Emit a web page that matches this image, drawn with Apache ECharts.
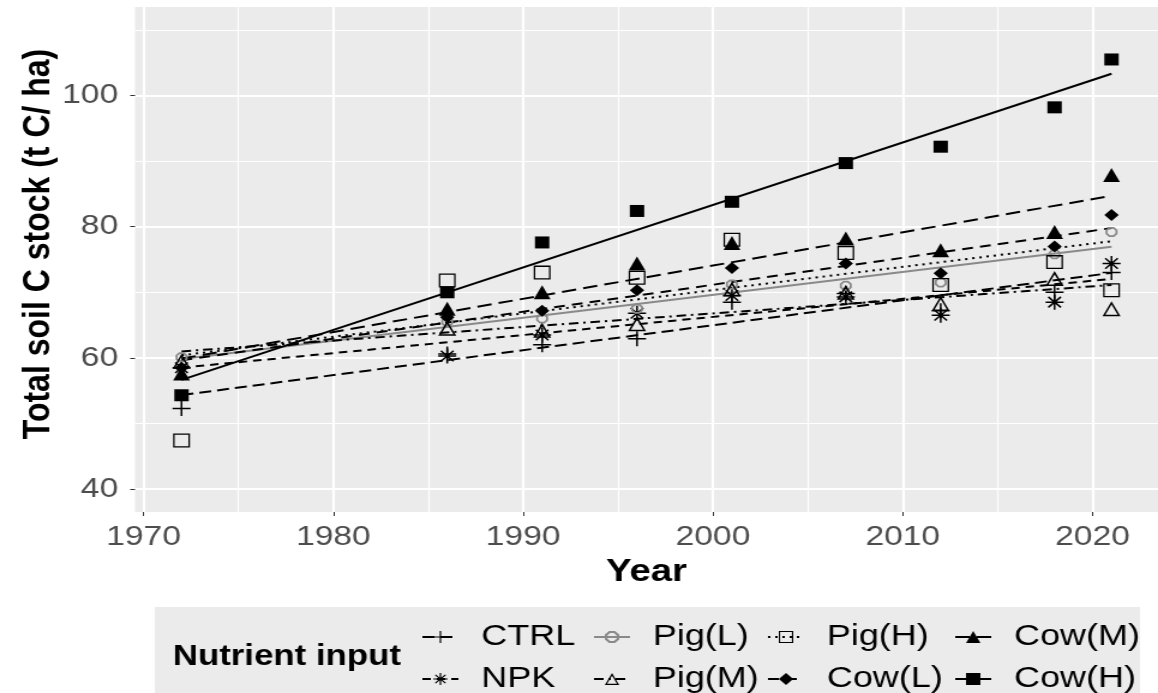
<!DOCTYPE html>
<html>
<head>
<meta charset="utf-8">
<script src="https://cdn.jsdelivr.net/npm/echarts@6/dist/echarts.min.js"></script>
<style>
html,body{margin:0;padding:0;background:#fff;overflow:hidden;}
#main{width:965px;height:693px;transform:scaleX(1.2);transform-origin:0 0;}
</style>
</head>
<body>
<div id="main"></div>
<script>
// ---- data ----
const years = [1972, 1986, 1991, 1996, 2001, 2007, 2012, 2018, 2021];
const treatments = ['CTRL', 'NPK', 'Pig(L)', 'Pig(M)', 'Pig(H)', 'Cow(L)', 'Cow(M)', 'Cow(H)'];
const ctrl = [52.3, 60.6, 62.0, 62.9, 68.5, 69.8, 67.2, 70.0, 73.0];
const npk  = [58.5, 60.3, 63.5, 66.8, 69.5, 69.3, 66.5, 68.5, 74.4];
const pigL = [60.1, 65.5, 66.0, 67.5, 71.2, 71.0, 71.5, 75.8, 79.2];
const pigM = [59.5, 64.5, 64.2, 65.2, 70.5, 70.0, 68.3, 72.1, 67.5];
const pigH = [47.4, 71.8, 73.0, 72.2, 78.0, 76.0, 71.1, 74.6, 70.3];
const cowL = [58.5, 66.2, 67.2, 70.3, 73.7, 74.4, 72.9, 77.0, 81.8];
const cowM = [57.6, 67.5, 70.0, 74.4, 77.5, 78.2, 76.4, 79.2, 87.9];
const cowH = [54.3, 70.0, 77.6, 82.4, 83.8, 89.7, 92.2, 98.2, 105.5];
const xTickLabels = [1970, 1980, 1990, 2000, 2010, 2020];
const yTickLabels = [40, 60, 80, 100];
const xMinorBreaks = [1975, 1985, 1995, 2005, 2015];
const yMinorBreaks = [50, 70, 90, 110];
const yTitle = 'Total soil C stock (t C/ ha)';
const legendTitle = 'Nutrient input';

const values = [ctrl, npk, pigL, pigM, pigH, cowL, cowM, cowH];

// ---- styles ----
const SYM_PLUS = 'path://M-1,-10L1,-10L1,-1L10,-1L10,1L1,1L1,10L-1,10L-1,1L-10,1L-10,-1L-1,-1Z';
const SYM_AST = 'path://M-1,-10L1,-10L1,-1L10,-1L10,1L1,1L1,10L-1,10L-1,1L-10,1L-10,-1L-1,-1Z' +
  'M-7.7,-6.3L-6.3,-7.7L7.7,6.3L6.3,7.7Z M6.3,-7.7L7.7,-6.3L-6.3,7.7L-7.7,6.3Z';
const SYM_OSQ = 'path://M-10,-10L10,-10L10,10L-10,10Z M-8.2,-8.2L-8.2,8.2L8.2,8.2L8.2,-8.2Z';
const SYM_OTRI = 'path://M0,-10L10,10L-10,10Z M0,-5.5L-6.8,8L6.8,8Z';
const SYM_OCT = 'path://M9.24,3.83L3.83,9.24L-3.83,9.24L-9.24,3.83L-9.24,-3.83L-3.83,-9.24L3.83,-9.24L9.24,-3.83Z' +
  'M6.0,-2.5L2.5,-6.0L-2.5,-6.0L-6.0,-2.5L-6.0,2.5L-2.5,6.0L2.5,6.0L6.0,2.5Z';
const styles = [
  {sym: SYM_PLUS, size: 15, color: '#000', dash: [10, 5]},
  {sym: SYM_AST,  size: 15, color: '#000', dash: [7, 5]},
  {sym: SYM_OCT,  size: 10, color: '#8a8a8a', dash: 'solid'},
  {sym: SYM_OTRI, size: 15, color: '#000', dash: [8, 4, 2, 4]},
  {sym: SYM_OSQ,  size: 14, color: '#000', dash: [2, 4]},
  {sym: 'diamond', size: 12, color: '#000', dash: [9, 6]},
  {sym: 'triangle', size: 14, color: '#000', dash: [12, 6]},
  {sym: 'rect', size: 12, color: '#000', dash: 'solid'}
];

// ordinary least squares fit, like geom_smooth(method = "lm")
function fitLine(ys) {
  const n = years.length;
  const mx = years.reduce((a, b) => a + b, 0) / n;
  const my = ys.reduce((a, b) => a + b, 0) / n;
  let sxy = 0, sxx = 0;
  for (let i = 0; i < n; i++) { sxy += (years[i] - mx) * (ys[i] - my); sxx += (years[i] - mx) ** 2; }
  const b = sxy / sxx, a = my - b * mx;
  return [[years[0], a + b * years[0]], [years[n - 1], a + b * years[n - 1]]];
}

const FONT = '"Liberation Sans", Arial, sans-serif';
const series = [];
// minor grid lines (ggplot minor breaks), drawn below everything else
series.push({
  name: 'minor-grid', type: 'line', data: [], silent: true, z: 0, zlevel: 0,
  markLine: {
    silent: true, symbol: 'none', animation: false, z: 0,
    label: {show: false},
    lineStyle: {color: '#fff', width: 1.2, type: 'solid'},
    emphasis: {disabled: true},
    data: xMinorBreaks.map(v => ({xAxis: v})).concat(yMinorBreaks.map(v => ({yAxis: v})))
  }
});
treatments.forEach((name, i) => {
  const st = styles[i];
  series.push({
    name: name, type: 'line', data: fitLine(values[i]),
    symbol: st.sym, symbolSize: st.size, showSymbol: false,
    lineStyle: {color: st.color, width: 2, type: st.dash},
    itemStyle: {color: st.color},
    z: 3, silent: true
  });
});
treatments.forEach((name, i) => {
  const st = styles[i];
  series.push({
    name: name, type: 'scatter', data: years.map((y, k) => [y, values[i][k]]),
    symbol: st.sym, symbolSize: st.size,
    itemStyle: {color: st.color, opacity: 1},
    z: 4, silent: true
  });
});

const legendCols = [[0, 1, 351], [2, 3, 494], [4, 5, 639], [6, 7, 795]];
const legends = legendCols.map(c => ({
  data: [treatments[c[0]], treatments[c[1]]],
  orient: 'vertical', left: c[2], top: 619, height: 90, width: 200, padding: 0,
  itemGap: 6, itemWidth: 30, itemHeight: 15,
  selectedMode: false,
  textStyle: {fontSize: 30, fontFamily: FONT, color: '#000', lineHeight: 36, padding: [0, 0, 0, 14]}
}));

const chart = echarts.init(document.getElementById('main'));
chart.setOption({
  animation: false,
  backgroundColor: '#fff',
  grid: {left: 112.5, right: -6.7, top: 7, bottom: 181, show: true, backgroundColor: '#EBEBEB', borderWidth: 0},
  xAxis: {
    type: 'value', min: 1969.55, max: 2023.45, splitNumber: 5, minInterval: 10, maxInterval: 10,
    axisLine: {show: false},
    axisTick: {show: true, customValues: xTickLabels, length: 4, lineStyle: {color: '#333', width: 1}},
    axisLabel: {customValues: xTickLabels, formatter: v => String(v), fontSize: 28, fontFamily: FONT, color: '#4D4D4D', margin: 11},
    splitLine: {show: true, lineStyle: {color: '#fff', width: 2.2}},
    name: 'Year', nameLocation: 'middle', nameGap: 44,
    nameTextStyle: {fontSize: 32, fontWeight: 'bold', fontFamily: FONT, color: '#000'}
  },
  yAxis: {
    type: 'value', min: 36.5, max: 113.5, splitNumber: 4, minInterval: 20, maxInterval: 20,
    axisLine: {show: false},
    axisTick: {show: true, customValues: yTickLabels, length: 4, lineStyle: {color: '#333', width: 1}},
    axisLabel: {customValues: yTickLabels, formatter: v => String(v), fontSize: 28, fontFamily: FONT, color: '#4D4D4D', margin: 14},
    splitLine: {show: true, lineStyle: {color: '#fff', width: 2.2}}
  },
  legend: legends,
  graphic: [
    {type: 'rect', shape: {x: 129, y: 607, width: 821, height: 90}, style: {fill: '#EBEBEB'}, z: 0, silent: true},
    {type: 'text', x: 144, y: 657, style: {text: legendTitle, font: 'bold 29px ' + FONT, fill: '#000', textVerticalAlign: 'middle'}, z: 1, silent: true},
    {type: 'text', x: 32, y: 244, rotation: Math.PI / 2,
     style: {text: yTitle, font: 'bold 32px ' + FONT, fill: '#000', textAlign: 'center', textVerticalAlign: 'middle'}, z: 1, silent: true}
  ],
  series: series
});
</script>
</body>
</html>
